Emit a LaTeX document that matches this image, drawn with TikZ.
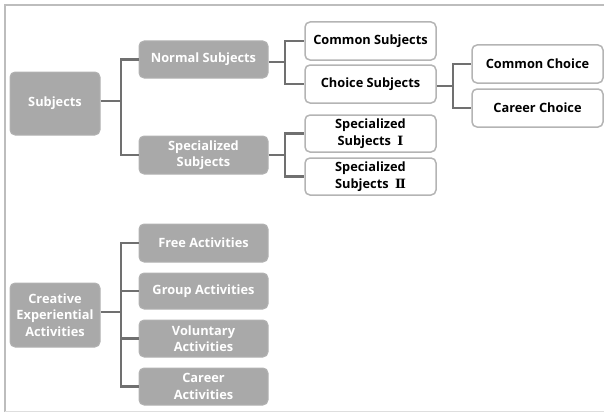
\documentclass[tikz,border=0pt]{standalone}
\usepackage{fontspec}
\setmainfont{Open Sans}[BoldFont={* Bold}]
\newfontfamily\romfont{DejaVu Serif}
\definecolor{boxgray}{HTML}{A9A9A9}
\definecolor{boxedge}{HTML}{B4B4B4}
\definecolor{linkgray}{HTML}{707070}
\definecolor{framegray}{HTML}{BDBDBD}
\begin{document}
\begin{tikzpicture}[x=1pt,y=-1pt,
  graybox/.style={rectangle, rounded corners=5pt, fill=boxgray, draw=boxgray!90!white, line width=1pt,
    text=white, font=\bfseries\fontsize{12.8}{16.5}\selectfont, align=center, inner sep=0pt},
  whitebox/.style={rectangle, rounded corners=5pt, fill=white, draw=boxedge, line width=1.5pt,
    text=black, font=\bfseries\fontsize{12.8}{16.5}\selectfont, align=center, inner sep=0pt,
    minimum width=131pt},
  link/.style={draw=linkgray, line width=2.6pt}]
\useasboundingbox (0,0) rectangle (604,412);
% frame
\draw[framegray, line width=2pt] (4.5,412) -- (4.5,5) -- (604,5);
\draw[framegray!50, line width=0.8pt] (4.5,411) -- (604,411);
% subjects tree
\node[graybox, minimum width=90pt, minimum height=63pt] (subj) at (55,103.5) {Subjects};
\node[graybox, minimum width=129pt, minimum height=37pt] (norm) at (203.5,59.5) {Normal Subjects};
\node[graybox, minimum width=129pt, minimum height=38pt] (spec) at (203.5,155) {Specialized\\Subjects};
\node[whitebox, minimum height=38pt] (comm) at (370.5,41) {Common Subjects};
\node[whitebox, minimum height=38pt] (choice) at (370.5,84) {Choice Subjects};
\node[whitebox, minimum height=37pt] (spi) at (370.5,133.5) {Specialized\\Subjects\enspace{\romfont\bfseries Ⅰ}};
\node[whitebox, minimum height=37pt] (spii) at (370.5,176.5) {Specialized\\Subjects\enspace{\romfont\bfseries Ⅱ}};
\node[whitebox, minimum height=38pt] (cchoice) at (537.5,64) {Common Choice};
\node[whitebox, minimum height=38pt] (kchoice) at (537.5,108) {Career Choice};
% activities tree
\node[graybox, minimum width=90pt, minimum height=64pt] (crea) at (55,315) {Creative\\Experiential\\Activities};
\node[graybox, minimum width=129pt, minimum height=38pt] (free) at (203.5,243) {Free Activities};
\node[graybox, minimum width=129pt, minimum height=36pt] (group) at (203.5,291) {Group Activities};
\node[graybox, minimum width=129pt, minimum height=37pt] (vol) at (203.5,338.5) {Voluntary\\Activities};
\node[graybox, minimum width=129pt, minimum height=37pt] (car) at (203.5,386.5) {Career\\Activities};
% connectors
\coordinate (j1) at (121,101);
\draw[link] (subj.east |- j1) -- (j1);
\draw[link] (j1) |- (norm.west);
\draw[link] (j1) |- (spec.west);
\coordinate (j2) at (285,62);
\draw[link] (norm.east |- j2) -- (j2);
\draw[link] (j2) |- (comm.west);
\draw[link] (j2) |- (choice.west);
\coordinate (j3) at (285,155);
\draw[link] (spec.east |- j3) -- (j3);
\draw[link] (j3) |- (spi.west);
\draw[link] (j3) |- (spii.west);
\coordinate (j4) at (453,86);
\draw[link] (choice.east |- j4) -- (j4);
\draw[link] (j4) |- (cchoice.west);
\draw[link] (j4) |- (kchoice.west);
\coordinate (j5) at (121,312);
\draw[link] (crea.east |- j5) -- (j5);
\draw[link] (j5) |- (free.west);
\draw[link] (j5) |- (group.west);
\draw[link] (j5) |- (vol.west);
\draw[link] (j5) |- (car.west);
\end{tikzpicture}
\end{document}
